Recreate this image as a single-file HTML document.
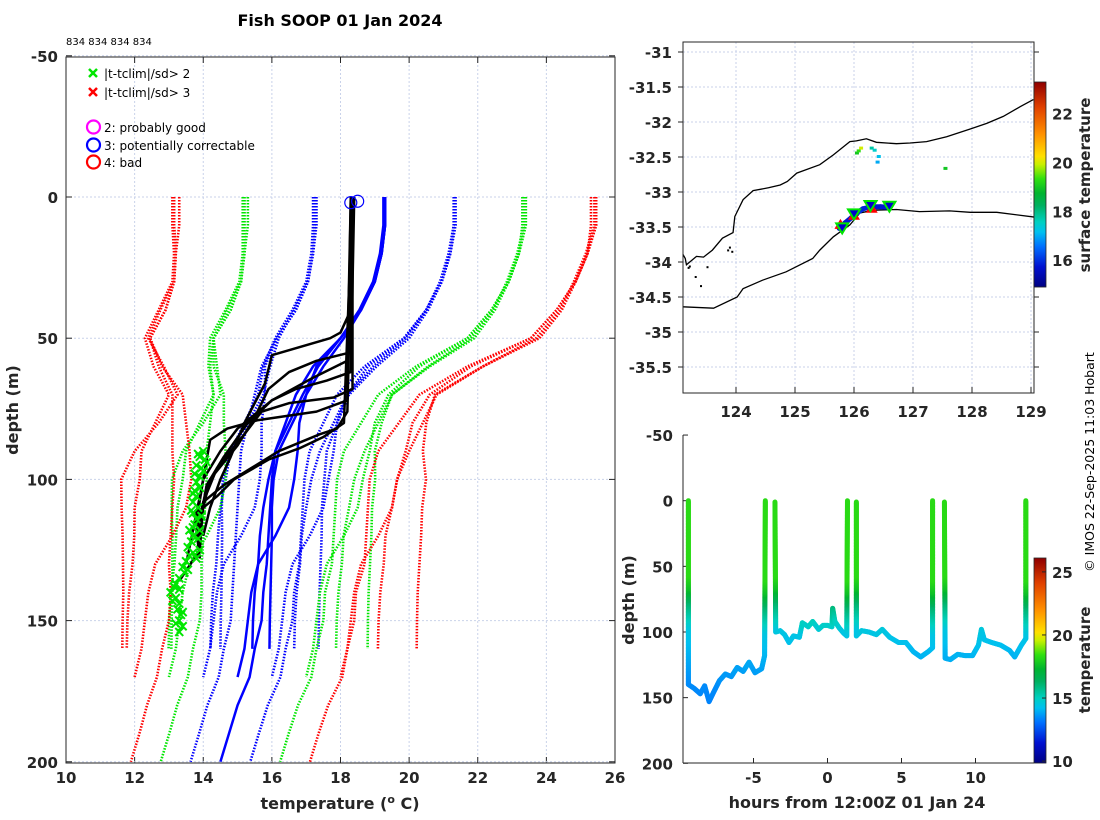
<!DOCTYPE html>
<html><head><meta charset="utf-8"><style>
body{margin:0;background:#fff}
svg{display:block;font-family:"DejaVu Sans","Liberation Sans",sans-serif}
.tk{font-size:15px;font-weight:bold;fill:#262626}
.lab{font-size:16px;font-weight:bold;fill:#262626}
.lg{font-size:12px;fill:#000}
</style></head><body>
<svg id="svg" width="1100" height="820" viewBox="0 0 1100 820" xmlns="http://www.w3.org/2000/svg">
<rect width="1100" height="820" fill="#fff"/>
<text x="340" y="26" text-anchor="middle" style="font-size:16px;font-weight:bold">Fish SOOP 01 Jan 2024</text>
<text x="66" y="45" style="font-size:10px">834 834 834 834</text>
<g id="main"></g>
<g id="map"></g>
<g id="sect"></g>
<text transform="translate(1094,462) rotate(-90)" text-anchor="middle" style="font-size:12.5px">© IMOS 22-Sep-2025 11:03 Hobart</text>
</svg>
<script>
// ---------- data ----------
const depths = [0,10,20,30,40,50,60,70,80,90,100,110,120,130,140,150,160,170,180,190,200];
const meanA = [19.3,19.3,19.2,19.0,18.6,18.1,17.5,17.0,16.6,16.2,16.05,16.0,16.0,15.98,15.96,15.94,15.93];
const sdA   = [2.0,2.0,2.0,1.95,1.95,1.9,1.55,1.25,1.3,1.4,1.48,1.46,1.45,1.44,1.43,1.43,1.43];
const meanD = [19.25,19.25,19.15,18.95,18.55,18.0,17.35,16.9,16.5,16.1,15.9,15.75,15.65,15.6,15.5,15.45,15.43];
const sdD   = [2.05,2.05,2.0,1.95,1.95,1.9,1.6,1.3,1.3,1.3,1.25,1.25,1.22,1.22,1.22,1.22,1.22];
const meanB = [19.3,19.3,19.2,19.0,18.6,18.0,17.3,17.0,16.8,16.75,16.65,16.5,16.1,15.6,15.4,15.3,15.2,15.0];
const sdB   = [2.05,2.05,2.0,1.95,1.9,1.85,1.5,1.2,1.1,1.05,1.0,1.0,1.0,1.0,1.0,1.0,1.0,1.0];
const meanC = [19.3,19.3,19.2,19.0,18.6,18.0,17.2,16.7,16.4,16.1,16.0,15.95,15.9,15.85,15.75,15.7,15.5,15.35,15.0,14.75,14.5];
const sdC   = [2.05,2.05,2.0,1.95,1.9,1.85,1.5,1.2,1.1,1.0,0.95,0.95,0.95,0.95,0.9,0.9,0.9,0.9,0.88,0.87,0.87];
const obs1 = [[0,18.35],[40,18.3],[48,18.0],[50,17.7],[56,16.0],[66,15.8],[80,15.2],[92,14.8],[100,14.5],[110,14.2],[120,14.0]];
const obs2 = [[0,18.3],[55,18.3],[58,17.3],[62,16.5],[68,15.9],[78,15.5],[88,15.0],[100,14.2],[110,14.0],[118,13.9]];
const obs3 = [[0,18.4],[62,18.3],[65,17.6],[68,16.7],[72,16.0],[80,15.3],[92,14.6],[102,14.1],[115,13.9],[122,13.9]];
const obs4 = [[0,18.35],[68,18.35],[71,17.8],[73,16.5],[76,15.7],[84,15.2],[96,14.4],[108,14.0],[125,13.9]];
const obs5 = [[0,18.3],[72,18.2],[76,17.3],[79,15.6],[82,14.7],[86,14.2],[100,14.0],[115,13.8],[126,13.9]];
const obs6 = [[0,18.35],[76,18.2],[82,17.9],[84,17.4],[90,16.2],[96,15.4],[102,14.6],[108,14.0],[118,13.8],[128,13.9]];
const obs7 = [[0,18.3],[58,18.2],[64,17.2],[72,16.0],[82,15.0],[90,14.5],[100,14.0],[112,13.8],[130,13.5]];
const obs8 = [[0,18.35],[80,18.1],[85,17.5],[89,16.8],[93,15.9],[100,14.9],[106,14.4],[112,13.8],[125,13.9],[136,13.3]];
const flagDepths = [90,92,94,95,97,99,101,103,104,106,108,110,112,114,116,118,120,122,124,126,127,129,131,133,135,137,139,140,142,144,146,148,150,152,154,113,96,118,125,128,91,93,98,105,111,117,121,132,138,143,147,151];
const flagTemps  = [14.0,13.9,14.1,13.8,14.0,13.9,13.8,13.9,13.75,13.8,13.7,13.85,13.7,13.8,13.75,13.6,13.7,13.65,13.55,13.7,13.6,13.5,13.4,13.45,13.3,13.2,13.3,13.05,13.2,13.3,13.25,13.35,13.3,13.4,13.3,13.95,13.95,13.9,13.9,13.8,13.85,14.05,13.75,13.7,13.65,13.7,13.85,13.55,13.15,13.1,13.4,13.2];
const qcDepths = [2,1.5];
const qcTemps = [18.3,18.5];
const xTicks = [10,12,14,16,18,20,22,24,26];
const yTicks = [-50,0,50,100,150,200];
// map
const coastN = [[123.10,-33.89],[123.14,-33.95],[123.16,-34.04],[123.33,-33.92],[123.45,-33.93],[123.6,-33.83],[123.77,-33.66],[123.95,-33.58],[123.98,-33.35],[124.12,-33.11],[124.29,-32.98],[124.55,-32.94],[124.75,-32.90],[124.87,-32.85],[125.03,-32.73],[125.42,-32.61],[125.65,-32.47],[125.93,-32.28],[126.04,-32.27],[126.21,-32.24],[126.38,-32.29],[126.72,-32.31],[126.95,-32.30],[127.23,-32.28],[127.57,-32.21],[127.97,-32.10],[128.25,-32.02],[128.53,-31.92],[128.82,-31.78],[129.04,-31.68]];
const coastS = [[123.10,-34.64],[123.62,-34.66],[124.02,-34.50],[124.12,-34.38],[124.45,-34.26],[124.85,-34.14],[125.3,-33.95],[125.42,-33.83],[125.65,-33.64],[125.93,-33.47],[126.1,-33.30],[126.33,-33.26],[126.72,-33.25],[127.11,-33.28],[127.62,-33.27],[127.97,-33.29],[128.42,-33.29],[129.07,-33.36]];
const trackLon = [125.75,125.85,125.95,126.05,126.15,126.3,126.45,126.6];
const trackLat = [-33.52,-33.44,-33.37,-33.3,-33.24,-33.21,-33.21,-33.22];
const trackSst = [15.8,15.8,15.9,16.0,15.9,15.8,15.8,15.7];
const downLon = [125.8,126.0,126.28,126.6];
const downLat = [-33.52,-33.32,-33.2,-33.21];
const upLon = [125.77,126.0,126.3];
const upLat = [-33.47,-33.34,-33.24];
const satLon = [126.05,126.08,126.12,126.3,126.35,126.42,126.4,127.55];
const satLat = [-32.45,-32.42,-32.38,-32.38,-32.41,-32.5,-32.58,-32.67];
const satSst = [19.0,19.3,20.0,17.8,17.5,17.2,17.0,19.0];
const lonTicks = [124,125,126,127,128,129];
const latTicks = [-31,-31.5,-32,-32.5,-33,-33.5,-34,-34.5,-35,-35.5];
const sstTicks = [16,18,20,22];
// section
const tow1 = [[-9.4,0],[-9.4,140],[-9.0,143],[-8.6,147],[-8.3,141],[-8.0,153],[-7.7,146],[-7.3,137],[-6.9,132],[-6.5,134],[-6.1,127],[-5.7,130],[-5.3,123],[-4.9,131],[-4.45,128],[-4.25,118],[-4.2,0]];
const tow2 = [[-3.55,1],[-3.5,100],[-3.2,99],[-2.9,102],[-2.6,108],[-2.3,103],[-1.9,104],[-1.7,93],[-1.3,96],[-1.0,92],[-0.6,98],[-0.3,95],[0,95],[0.3,96],[0.35,82],[0.5,92],[0.8,97],[1.1,101],[1.3,103],[1.35,0]];
const tow3 = [[1.95,1],[1.95,103],[2.3,99],[2.8,100],[3.3,102],[3.7,98],[4.2,104],[4.8,108],[5.3,108],[5.8,115],[6.3,119],[6.8,115],[7.1,112],[7.1,0]];
const tow4 = [[7.9,1],[7.95,120],[8.3,121],[8.8,117],[9.3,118],[9.8,118],[10.2,110],[10.4,98],[10.6,106],[11.1,108],[11.7,110],[12.3,114],[12.65,119],[13.1,110],[13.4,105],[13.4,0]];
const profDepth = [0,60,70,80,90,100,120,140,160];
const profTemp  = [18.3,18.3,17.6,16.2,15.3,14.5,14.0,13.5,13.3];
const hourTicks = [-5,0,5,10];
const secDepthTicks = [-50,0,50,100,150,200];
const cbTicks = [10,15,20,25];

// ---------- helpers ----------
const NS='http://www.w3.org/2000/svg';
function mk(tag,attrs,parent){const e=document.createElementNS(NS,tag);for(const k in attrs)e.setAttribute(k,attrs[k]);parent.appendChild(e);return e;}
const CMAP=[[0,[0,0,128]],[0.1,[0,16,208]],[0.2,[0,112,255]],[0.27,[0,192,240]],[0.32,[0,208,192]],[0.4,[0,176,96]],[0.46,[0,180,48]],[0.53,[48,224,16]],[0.6,[200,240,0]],[0.64,[255,224,0]],[0.75,[255,144,0]],[0.88,[224,64,0]],[1,[144,0,0]]];
function jet(v){v=Math.max(0,Math.min(1,v));for(let i=0;i<CMAP.length-1;i++){const [a,ca]=CMAP[i],[b,cb]=CMAP[i+1];if(v<=b){const f=(v-a)/(b-a);return 'rgb('+ca.map((c,j)=>Math.round(c+f*(cb[j]-c))).join(',')+')';}}return 'rgb(144,0,0)';}
const GRID='#c9d2ea';

// ---------- main panel ----------
const main=document.getElementById('main');
const X=t=>66+(t-10)*34.3125;
const Y=d=>197+d*2.824;
const mainT=57, mainB=763, mainL=66, mainR=615;
xTicks.forEach(t=>{
  const g=mk('line',{x1:X(t),x2:X(t),y1:mainT,y2:mainB,stroke:GRID,'stroke-dasharray':'2,2'},main);
  
  mk('line',{x1:X(t),x2:X(t),y1:mainB,y2:mainB-6,stroke:'#262626'},main);
  mk('line',{x1:X(t),x2:X(t),y1:mainT,y2:mainT+6,stroke:'#262626'},main);
  const l=mk('text',{x:X(t),y:783,'text-anchor':'middle',class:'tk'},main);l.textContent=t;
  
});
yTicks.forEach(d=>{
  const g=mk('line',{x1:mainL,x2:mainR,y1:Y(d),y2:Y(d),stroke:GRID,'stroke-dasharray':'2,2'},main);
  
  mk('line',{x1:mainL,x2:mainL+6,y1:Y(d),y2:Y(d),stroke:'#262626'},main);
  mk('line',{x1:mainR,x2:mainR-6,y1:Y(d),y2:Y(d),stroke:'#262626'},main);
  const l=mk('text',{x:58,y:Y(d)+6,'text-anchor':'end',class:'tk'},main);l.textContent=d;
  
});
const sets=[[meanA,sdA],[meanD,sdD],[meanB,sdB],[meanC,sdC]];
const clim=[[-3,'#ff0000'],[-2,'#00e600'],[-1,'#0000ff'],[1,'#0000ff'],[2,'#00e600'],[3,'#ff0000']];
sets.forEach(([m,s],si)=>{
  clim.forEach(([k,c])=>{
    const pts=m.map((v,i)=>X(v+k*s[i])+','+Y(depths[i])).join(' ');
    const p=mk('polyline',{points:pts,fill:'none',stroke:c,'stroke-width':2.6,'stroke-dasharray':'1.5,1.5'},main);
    
  });
  const pts=m.map((v,i)=>X(v)+','+Y(depths[i])).join(' ');
  const p=mk('polyline',{points:pts,fill:'none',stroke:'#0000ff','stroke-width':2.5},main);
  
});
[obs1,obs2,obs3,obs4,obs5,obs6,obs7,obs8].forEach(o=>{
  const p=mk('polyline',{points:o.map(q=>X(q[1])+','+Y(q[0])).join(' '),fill:'none',stroke:'#000','stroke-width':2.5,'stroke-linejoin':'round'},main);
  
});
flagDepths.forEach((d,i)=>{
  const x=X(flagTemps[i]),y=Y(d),r=4;
  const p=mk('path',{d:`M${x-r},${y-r}L${x+r},${y+r}M${x-r},${y+r}L${x+r},${y-r}`,stroke:'#00e600','stroke-width':2},main);
  
});
qcDepths.forEach((d,i)=>{
  const c=mk('circle',{cx:X(qcTemps[i]),cy:Y(d),r:6,fill:'none',stroke:'#0000ff','stroke-width':1.2},main);
  
});
mk('rect',{x:mainL,y:mainT,width:mainR-mainL,height:mainB-mainT,fill:'none',stroke:'#262626'},main);
</script>
<svg style="position:absolute;left:0;top:0;pointer-events:none" width="1100" height="820">
<g>
<path d="M89,69L97,77M89,77L97,69" stroke="#00e600" stroke-width="2.5"/>
<text x="104" y="78" style="font-family:'DejaVu Sans',sans-serif;font-size:12px">|t-tclim|/sd&gt; 2</text>
<path d="M89,88L97,96M89,96L97,88" stroke="#ff0000" stroke-width="2.5"/>
<text x="104" y="97" style="font-family:'DejaVu Sans',sans-serif;font-size:12px">|t-tclim|/sd&gt; 3</text>
<circle cx="93.5" cy="127" r="6.5" fill="none" stroke="#ff00ff" stroke-width="2.2"/>
<text x="104" y="132" style="font-family:'DejaVu Sans',sans-serif;font-size:12px">2: probably good</text>
<circle cx="93.5" cy="145" r="6.5" fill="none" stroke="#0000ff" stroke-width="2.2"/>
<text x="104" y="150" style="font-family:'DejaVu Sans',sans-serif;font-size:12px">3: potentially correctable</text>
<circle cx="93.5" cy="162" r="6.5" fill="none" stroke="#ff0000" stroke-width="2.2"/>
<text x="104" y="167" style="font-family:'DejaVu Sans',sans-serif;font-size:12px">4: bad</text>
</g>
<text transform="translate(18,410) rotate(-90)" text-anchor="middle" style="font-family:'DejaVu Sans',sans-serif;font-size:16px;font-weight:bold;fill:#262626">depth (m)</text>
<text x="340" y="809" text-anchor="middle" style="font-family:'DejaVu Sans',sans-serif;font-size:16px;font-weight:bold;fill:#262626">temperature (<tspan dy="-6" font-size="11">o</tspan><tspan dy="6"> C)</tspan></text>
<text transform="translate(634,600) rotate(-90)" text-anchor="middle" style="font-family:'DejaVu Sans',sans-serif;font-size:16px;font-weight:bold;fill:#262626">depth (m)</text>
<text x="857" y="808" text-anchor="middle" style="font-family:'DejaVu Sans',sans-serif;font-size:16px;font-weight:bold;fill:#262626">hours from 12:00Z 01 Jan 24</text>
<text transform="translate(1090,185) rotate(-90)" text-anchor="middle" style="font-family:'DejaVu Sans',sans-serif;font-size:15px;font-weight:bold;fill:#262626">surface temperature</text>
<text transform="translate(1090,660) rotate(-90)" text-anchor="middle" style="font-family:'DejaVu Sans',sans-serif;font-size:15px;font-weight:bold;fill:#262626">temperature</text>
</svg>
<script>
// ---------- map panel ----------
const map=document.getElementById('map');
const LX=l=>736+(l-124)*59;
const LY=a=>52+(-31-a)*70;
const mL=683,mR=1034,mT=42,mB=393;
lonTicks.forEach(t=>{
  const g=mk('line',{x1:LX(t),x2:LX(t),y1:mT,y2:mB,stroke:GRID,'stroke-dasharray':'2,2'},map);
  
  mk('line',{x1:LX(t),x2:LX(t),y1:mB,y2:mB-6,stroke:'#262626'},map);
  const l=mk('text',{x:LX(t),y:417,'text-anchor':'middle',class:'tk'},map);l.textContent=t;
  
});
latTicks.forEach(t=>{
  const g=mk('line',{x1:mL,x2:mR,y1:LY(t),y2:LY(t),stroke:GRID,'stroke-dasharray':'2,2'},map);
  
  mk('line',{x1:mL,x2:mL-5,y1:LY(t),y2:LY(t),stroke:'#262626'},map);
  mk('line',{x1:mR,x2:mR+5,y1:LY(t),y2:LY(t),stroke:'#262626'},map);
  const l=mk('text',{x:672,y:LY(t)+6,'text-anchor':'end',class:'tk'},map);l.textContent=t;
  
});
[coastN,coastS].forEach(c=>{
  const p=mk('polyline',{points:c.map(q=>LX(q[0])+','+LY(q[1])).join(' '),fill:'none',stroke:'#000','stroke-width':1.3},map);
  
});
[[123.2,-34.05],[123.18,-34.07],[123.5,-34.06],[123.85,-33.82],[123.92,-33.84],[123.88,-33.78],[123.3,-34.2],[123.39,-34.33]].forEach(q=>{
  const r=mk('rect',{x:LX(q[0]),y:LY(q[1]),width:2,height:2,fill:'#000'},map);
  
});
satLon.forEach((l,i)=>{
  const r=mk('rect',{x:LX(l)-2,y:LY(satLat[i])-2,width:4,height:3,fill:jet((satSst[i]-14.9)/(23.3-14.9))},map);
  
});
for(let i=0;i<trackLon.length-1;i++){
  const s=mk('line',{x1:LX(trackLon[i]),y1:LY(trackLat[i]),x2:LX(trackLon[i+1]),y2:LY(trackLat[i+1]),stroke:jet((trackSst[i]-14.9)/(23.3-14.9)),'stroke-width':5,'stroke-linecap':'round'},map);
  
}
upLon.forEach((l,i)=>{
  const x=LX(l),y=LY(upLat[i]);
  const t=mk('polygon',{points:`${x},${y-6} ${x-6},${y+4} ${x+6},${y+4}`,fill:'#ff0000'},map);
  
});
downLon.forEach((l,i)=>{
  const x=LX(l),y=LY(downLat[i]);
  const t=mk('polygon',{points:`${x-6},${y-5} ${x+6},${y-5} ${x},${y+5}`,fill:'#0000cc',stroke:'#00e600','stroke-width':2},map);
  
});
mk('rect',{x:mL,y:mT,width:mR-mL,height:mB-mT,fill:'none',stroke:'#262626'},map);
// map colorbar
const cbT=82,cbB=287,sMin=14.9,sMax=23.3;
for(let y=cbT;y<cbB;y++){mk('rect',{x:1034,y:y,width:12,height:1.2,fill:jet(1-(y-cbT)/(cbB-cbT))},map);}
const cb1=mk('rect',{x:1034,y:cbT,width:12,height:cbB-cbT,fill:'none',stroke:'#262626','stroke-width':0.8},map);

sstTicks.forEach(t=>{
  const y=cbB-(t-sMin)/(sMax-sMin)*(cbB-cbT);
  const l=mk('text',{x:1052,y:y+6,class:'tk'},map);l.textContent=t;
  
});

// ---------- section panel ----------
const sect=document.getElementById('sect');
const HX=h=>827.5+h*14.8;
const HY=d=>500.7+d*1.313;
const sL=683,sB=763,sT=435;
const cMin=9.85,cMax=26.1;
hourTicks.forEach(t=>{
  mk('line',{x1:HX(t),x2:HX(t),y1:sB,y2:sB-5,stroke:'#262626'},sect);
  const l=mk('text',{x:HX(t),y:783,'text-anchor':'middle',class:'tk'},sect);l.textContent=t;
  
});
secDepthTicks.forEach(t=>{
  mk('line',{x1:sL,x2:sL+5,y1:HY(t),y2:HY(t),stroke:'#262626'},sect);
  const l=mk('text',{x:673,y:HY(t)+6,'text-anchor':'end',class:'tk'},sect);l.textContent=t;
  
});
function tAt(d){for(let i=0;i<profDepth.length-1;i++){if(d<=profDepth[i+1]){const f=(d-profDepth[i])/(profDepth[i+1]-profDepth[i]);return profTemp[i]+f*(profTemp[i+1]-profTemp[i]);}}return profTemp[profTemp.length-1];}
[tow1,tow2,tow3,tow4].forEach(tow=>{
  const g=mk('g',{},sect);
  
  for(let i=0;i<tow.length-1;i++){
    const [h0,d0]=tow[i],[h1,d1]=tow[i+1];
    const x0=HX(h0),y0=HY(d0),x1=HX(h1),y1=HY(d1);
    const n=Math.max(1,Math.ceil(Math.hypot(x1-x0,y1-y0)/1.5));
    for(let k=0;k<n;k++){
      const f=k/n, f2=(k+1)/n;
      const d=d0+(d1-d0)*(f+f2)/2;
      mk('line',{x1:x0+(x1-x0)*f,y1:y0+(y1-y0)*f,x2:x0+(x1-x0)*f2,y2:y0+(y1-y0)*f2,stroke:jet((tAt(d)-cMin)/(cMax-cMin)),'stroke-width':5,'stroke-linecap':'round'},g);
    }
  }
});
mk('line',{x1:sL,x2:sL,y1:sT,y2:sB,stroke:'#262626'},sect);
mk('line',{x1:sL,x2:1034,y1:sB,y2:sB,stroke:'#262626'},sect);
const sbT=558,sbB=763;
for(let y=sbT;y<sbB;y++){mk('rect',{x:1034,y:y,width:12,height:1.2,fill:jet(1-(y-sbT)/(sbB-sbT))},sect);}
const cb2=mk('rect',{x:1034,y:sbT,width:12,height:sbB-sbT,fill:'none',stroke:'#262626','stroke-width':0.8},sect);

cbTicks.forEach(t=>{
  const y=sbB-(t-cMin)/(cMax-cMin)*(sbB-sbT);
  mk('line',{x1:1046,x2:1042,y1:y,y2:y,stroke:'#262626'},sect);
  const l=mk('text',{x:1052,y:y+6,class:'tk'},sect);l.textContent=t;
  
});
</script>
</body></html>
